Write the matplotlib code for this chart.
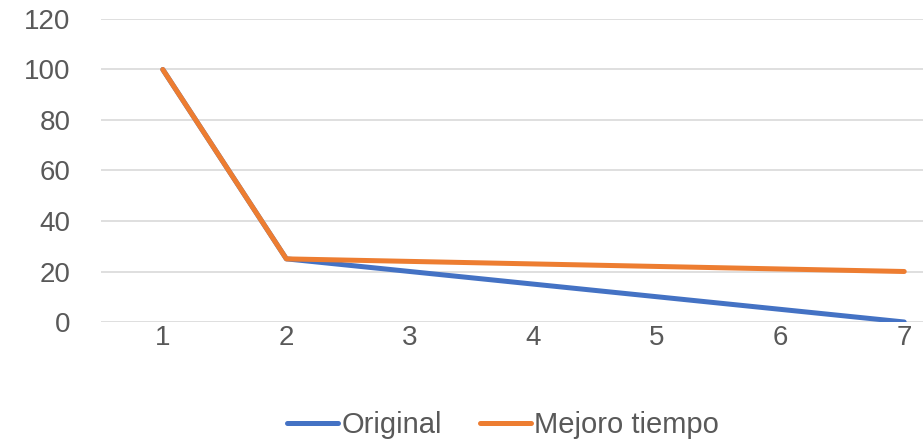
import matplotlib.pyplot as plt

# Data
x = [1, 2, 3, 4, 5, 6, 7]
original = [100, 25, 20, 15, 10, 5, 0]
mejor = [100, 25, 24, 23, 22, 21, 20]
yticks = [0, 20, 40, 60, 80, 100, 120]

plt.rcParams['font.family'] = ['Liberation Sans', 'DejaVu Sans']
txt = '#595959'
grid = '#d9d9d9'

fig = plt.figure(figsize=(9.23, 4.44), dpi=100)
ax = fig.add_axes([101 / 923, 122 / 444, 865 / 923, 303 / 444])

ax.plot(x, original, color='#4472C4', linewidth=3.6, solid_capstyle='round', label='Original', zorder=3)
ax.plot(x, mejor, color='#ED7D31', linewidth=3.6, solid_capstyle='round', label='Mejoro tiempo', zorder=4)

ax.set_xlim(0.5, 7.5)
ax.set_ylim(0, 120)
ax.set_yticks(yticks)
ax.set_xticks(x)
ax.grid(axis='y', color=grid, linewidth=1.2)
ax.set_axisbelow(True)
for s in ax.spines.values():
    s.set_visible(False)
ax.tick_params(axis='both', length=0, labelsize=20, colors=txt)
ax.tick_params(axis='y', pad=22)
ax.tick_params(axis='x', pad=2)

fig.legend(loc='center', bbox_to_anchor=(503 / 923, 1 - 425 / 444), ncol=2, frameon=False,
           fontsize=21, labelcolor=txt, handlelength=1.75, handletextpad=0.1,
           columnspacing=1.3)

fig.savefig('out.png', dpi=100)
